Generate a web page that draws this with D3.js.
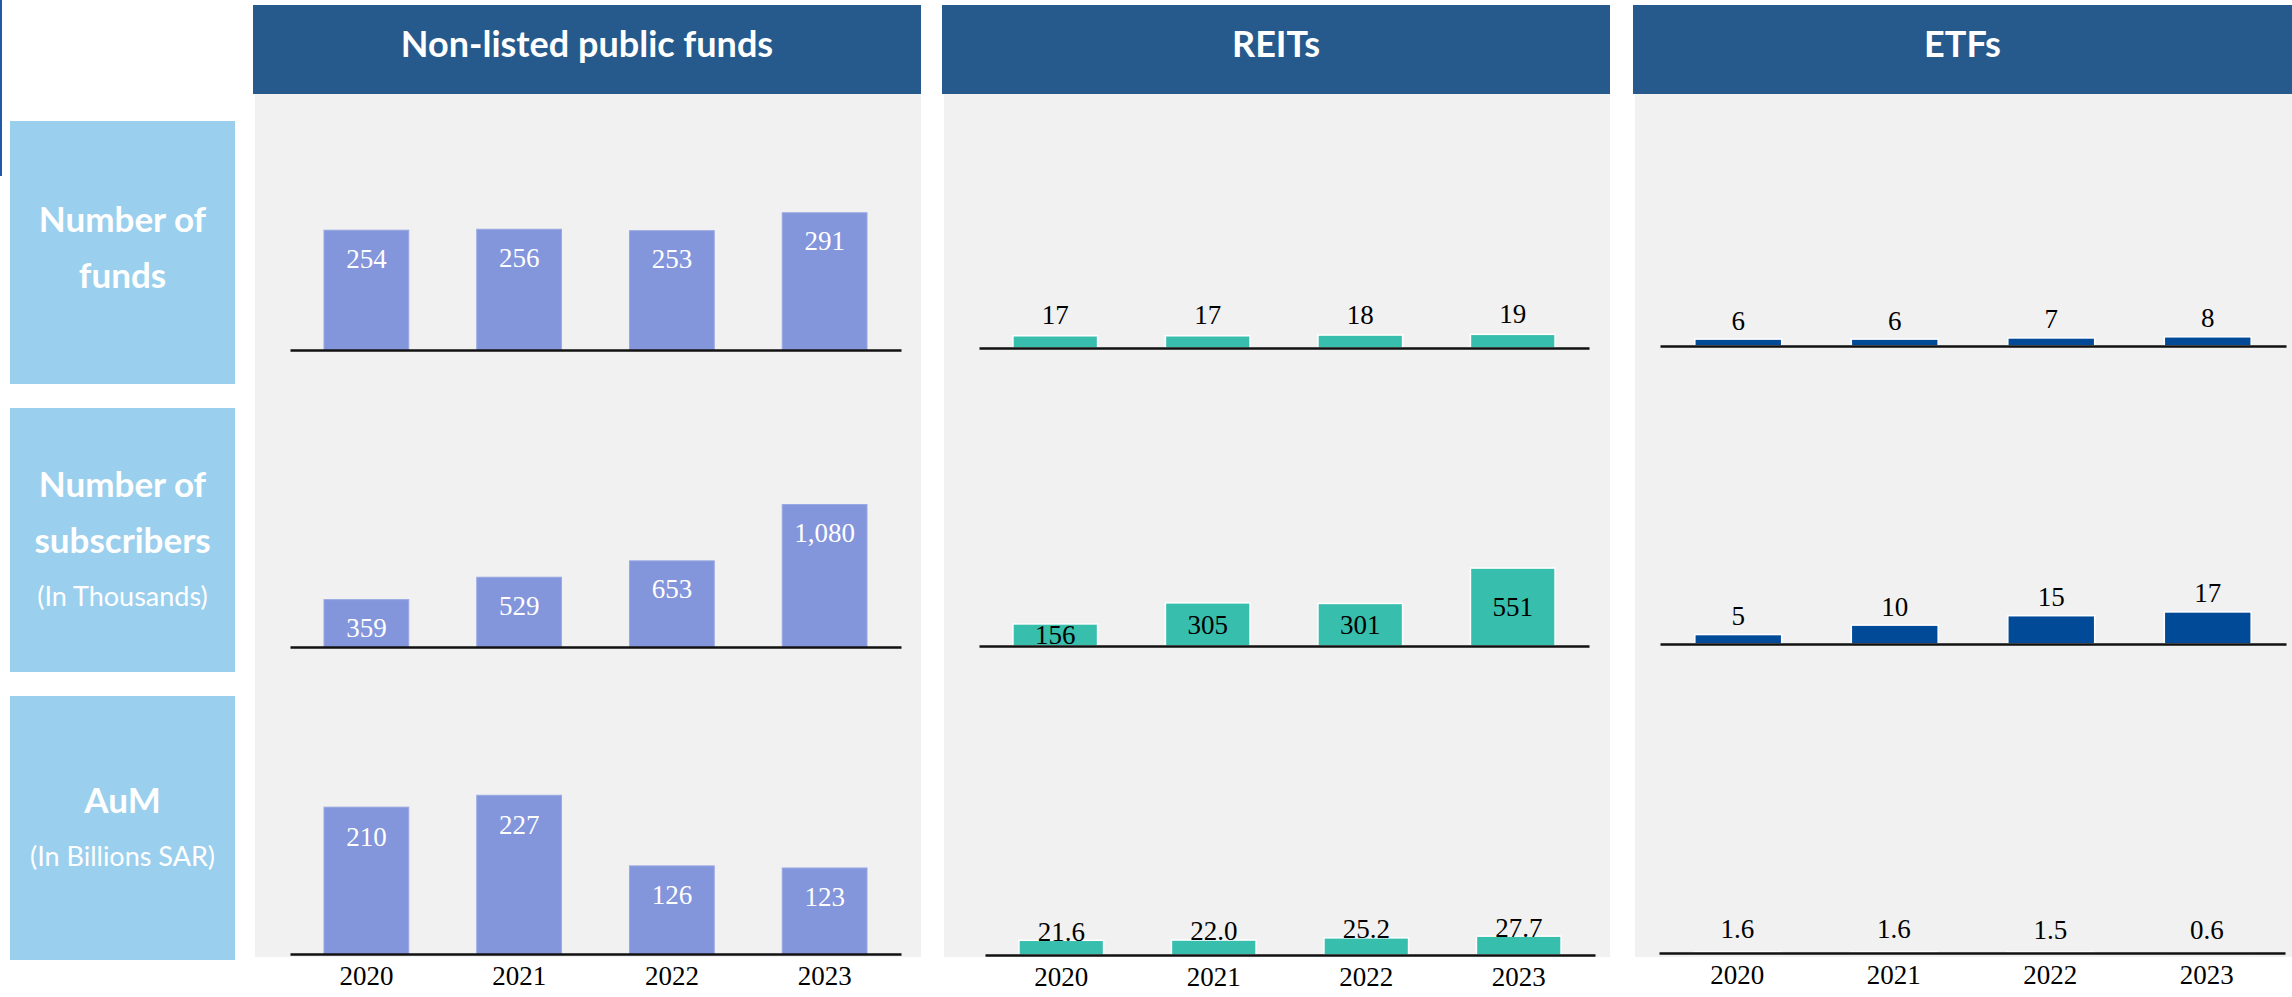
<!DOCTYPE html>
<html>
<head>
<meta charset="utf-8">
<script src="https://cdn.jsdelivr.net/npm/d3@7"></script>
<style>
  html, body { margin: 0; padding: 0; background: #ffffff; }
  svg { display: block; }
</style>
</head>
<body>
<svg id="chart" width="2292" height="997"></svg>
<script>
// ---------------- DATA ----------------
const years = ["2020", "2021", "2022", "2023"];
const panelTitles = ["Non-listed public funds", "REITs", "ETFs"];
const rowTitles = [["Number of", "funds"], ["Number of", "subscribers"], ["AuM"]];
const rowSubtitles = [null, "(In Thousands)", "(In Billions SAR)"];

const nonListedFunds = [254, 256, 253, 291];
const nonListedSubscribers = [359, 529, 653, 1080];
const nonListedAuM = [210, 227, 126, 123];

const reitsFunds = [17, 17, 18, 19];
const reitsSubscribers = [156, 305, 301, 551];
const reitsAuM = [21.6, 22.0, 25.2, 27.7];

const etfsFunds = [6, 6, 7, 8];
const etfsSubscribers = [5, 10, 15, 17];
const etfsAuM = [1.6, 1.6, 1.5, 0.6];

// grid of series: [row][panel]
const series = [
  [nonListedFunds, reitsFunds, etfsFunds],
  [nonListedSubscribers, reitsSubscribers, etfsSubscribers],
  [nonListedAuM, reitsAuM, etfsAuM]
];
const formats = [
  [d3.format(","), d3.format(","), d3.format(",")],
  [d3.format(","), d3.format(","), d3.format(",")],
  [d3.format(","), d3.format(".1f"), d3.format(".1f")]
];

// ---------------- LAYOUT ----------------
const colors = {
  header: "#275a8c",
  panel: "#f1f1f1",
  rowBox: "#9bcfee",
  bars: ["#8395db", "#37bead", "#004a98"],
  labels: ["#ffffff", "#000000", "#000000"]
};
const panelX = [[255, 921], [944, 1610], [1635, 2292]];
const headerY = [5, 94];
const panelBottom = 957;
const axisRange = [[290, 901], [979, 1589], [1660, 2286]];
const axisShift = [[0, 0, 0], [0, 0, 0], [0, 6, -1]];
const baselineY = [[350, 348, 346], [647, 646, 644], [954, 955, 953]];
const plotH = 200;
const domainMax = [[424, 278, 174], [1516, 1414, 106], [286, 294, 320]];
// label center relative to bar top (positive = inside bar), or "center"
const labelOffset = [[28, -21, -19], [28, "center", -19], [29, -9, -23]];
const rowBoxes = [[121, 384], [408, 672], [696, 960]];
const rowBoxX = [10, 235];

const svg = d3.select("#chart");
const titleFont = "Lato, 'Open Sans', sans-serif";
const numFont = "'Liberation Serif', 'Times New Roman', serif";

// left decoration line
svg.append("rect").attr("x", 0).attr("y", 0).attr("width", 2).attr("height", 176).attr("fill", "#1e5aa8");

// panels
panelTitles.forEach((t, p) => {
  const [x0, x1] = panelX[p];
  svg.append("rect").attr("x", x0).attr("y", headerY[1]).attr("width", x1 - x0)
    .attr("height", panelBottom - headerY[1]).attr("fill", colors.panel);
  svg.append("rect").attr("x", x0 - 2).attr("y", headerY[0]).attr("width", x1 - x0 + 2)
    .attr("height", headerY[1] - headerY[0]).attr("fill", colors.header);
  svg.append("text").attr("x", (x0 + x1) / 2 - 1).attr("y", 57)
    .attr("text-anchor", "middle").attr("fill", "#fff")
    .attr("font-family", titleFont).attr("font-weight", 700).attr("font-size", 36)
    .text(t);
});

// row label boxes
rowTitles.forEach((lines, r) => {
  const [y0, y1] = rowBoxes[r];
  svg.append("rect").attr("x", rowBoxX[0]).attr("y", y0).attr("width", rowBoxX[1] - rowBoxX[0])
    .attr("height", y1 - y0).attr("fill", colors.rowBox);
  const cx = (rowBoxX[0] + rowBoxX[1]) / 2;
  const items = lines.map(l => ({ text: l, sub: false }));
  if (rowSubtitles[r]) items.push({ text: rowSubtitles[r], sub: true });
  const gap = 56;
  const cy = (y0 + y1) / 2 - (r === 0 ? 5 : 0);
  items.forEach((it, i) => {
    const yc = cy + (i - (items.length - 1) / 2) * gap;
    svg.append("text").attr("x", cx).attr("y", yc).attr("dy", "0.36em")
      .attr("text-anchor", "middle").attr("fill", "#fff")
      .attr("font-family", titleFont)
      .attr("font-weight", it.sub ? 400 : 700)
      .attr("font-size", it.sub ? 27 : 35)
      .text(it.text);
  });
});

// charts
series.forEach((row, r) => {
  row.forEach((vals, p) => {
    const shift = axisShift[r][p];
    const x = d3.scaleBand().domain(years)
      .range([axisRange[p][0] + shift, axisRange[p][1] + shift])
      .paddingInner(0.445).paddingOuter(0.2225);
    const by = baselineY[r][p];
    const y = d3.scaleLinear().domain([0, domainMax[r][p]]).range([by, by - plotH]);
    const g = svg.append("g");
    const data = years.map((yr, i) => ({ yr, v: vals[i] }));

    g.selectAll("rect.bar").data(data).join("rect")
      .attr("class", "bar")
      .attr("x", d => x(d.yr))
      .attr("y", d => y(d.v))
      .attr("width", x.bandwidth())
      .attr("height", d => by - y(d.v))
      .attr("fill", colors.bars[p])
      .attr("stroke", p === 0 ? "#9aa9e4" : "#ffffff")
      .attr("stroke-width", p === 0 ? 1 : 1.5);

    // axis line (and year labels on bottom row)
    const axis = d3.axisBottom(x).tickSize(0).tickPadding(12)
      .tickFormat(r === 2 ? (d => d) : (() => ""));
    const ag = g.append("g").attr("transform", `translate(0,${by})`).call(axis);
    ag.select(".domain").attr("stroke", "#111").attr("stroke-width", 2.5);
    ag.selectAll("text").attr("font-family", numFont).attr("font-size", 27).attr("fill", "#000");

    const off = labelOffset[r][p];
    g.selectAll("text.val").data(data).join("text")
      .attr("class", "val")
      .attr("x", d => x(d.yr) + x.bandwidth() / 2)
      .attr("y", d => off === "center" ? (y(d.v) + by) / 2 : y(d.v) + off)
      .attr("dy", "0.35em")
      .attr("text-anchor", "middle")
      .attr("font-family", numFont).attr("font-size", 27)
      .attr("fill", colors.labels[p])
      .text(d => formats[r][p](d.v));
  });
});
</script>
</body>
</html>
